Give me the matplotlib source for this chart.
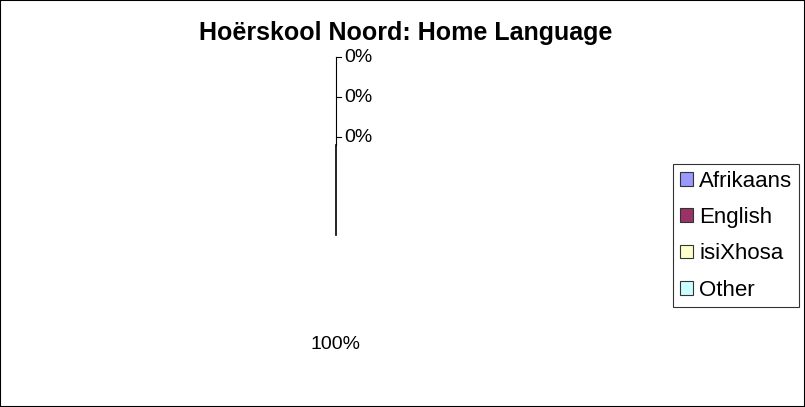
"""Hoërskool Noord home language pie (degenerate: one slice at 100%)."""
import matplotlib
matplotlib.use("Agg")
import matplotlib.pyplot as plt
import numpy as np
from matplotlib.patches import Patch, Rectangle

plt.rcParams["font.family"] = ["Liberation Sans", "DejaVu Sans"]

# data
languages = ["Afrikaans", "English", "isiXhosa", "Other"]
shares = [100, 0, 0, 0]
colors = ["#9999FF", "#993366", "#FFFFCC", "#CCFFFF"]
title = "Hoërskool Noord: Home Language"

W, H = 805, 407
fig = plt.figure(figsize=(W / 100, H / 100), dpi=100)
ax = fig.add_axes([0, 0, 1, 1])

# work in pixel-like data coords (y up)
cx, cy, r = 336, H - 235, 90
wedges, _, autotexts = ax.pie(
    shares, colors=colors, startangle=90, counterclock=False,
    center=(cx, cy), radius=r, autopct="%1.0f%%", pctdistance=1.22,
    frame=True, textprops=dict(fontsize=14),
)
for w in wedges:
    w.set_visible(False)

# only the radial edge of the full slice is visible in the original
th = np.deg2rad(wedges[0].theta2)
top = (cx + r * np.cos(th), cy + r * np.sin(th))
ax.plot([cx, top[0]], [cy, top[1]], color="black", lw=1.2)

# the empty slices get their labels stacked above the pie with leaders
zero_idx = [i for i, v in enumerate(shares) if v == 0]
label_y = [H - 137, H - 97, H - 57]
ax.plot([top[0], top[0]], [top[1], label_y[-1]], color="black", lw=0.8)
for i, y in zip(zero_idx, label_y):
    ax.plot([top[0], top[0] + 5], [y, y], color="black", lw=0.8)
    autotexts[i].set_position((top[0] + 8, y))
    autotexts[i].set_ha("left")
    autotexts[i].set_va("center")

ax.set_xlim(0, W)
ax.set_ylim(0, H)
ax.set_aspect("auto")
ax.axis("off")

fig.text(406 / W, 1 - 33 / H, title, ha="center", va="center",
         fontsize=18, fontweight="bold")

handles = [Patch(facecolor=c, edgecolor="#333333", lw=0.8) for c in colors]
leg = fig.legend(handles, languages, loc="upper left",
                 bbox_to_anchor=(673 / W, 1 - 164 / H), borderaxespad=0,
                 fontsize=16, frameon=True, fancybox=False, edgecolor="black",
                 handlelength=0.58, handleheight=0.58, handletextpad=0.3,
                 labelspacing=0.69, borderpad=0.3)
leg.get_frame().set_linewidth(0.8)

fig.add_artist(Rectangle((0, 0), 1, 1, transform=fig.transFigure,
                         fill=False, edgecolor="black", lw=1.5))

fig.savefig("out.png", dpi=100)
